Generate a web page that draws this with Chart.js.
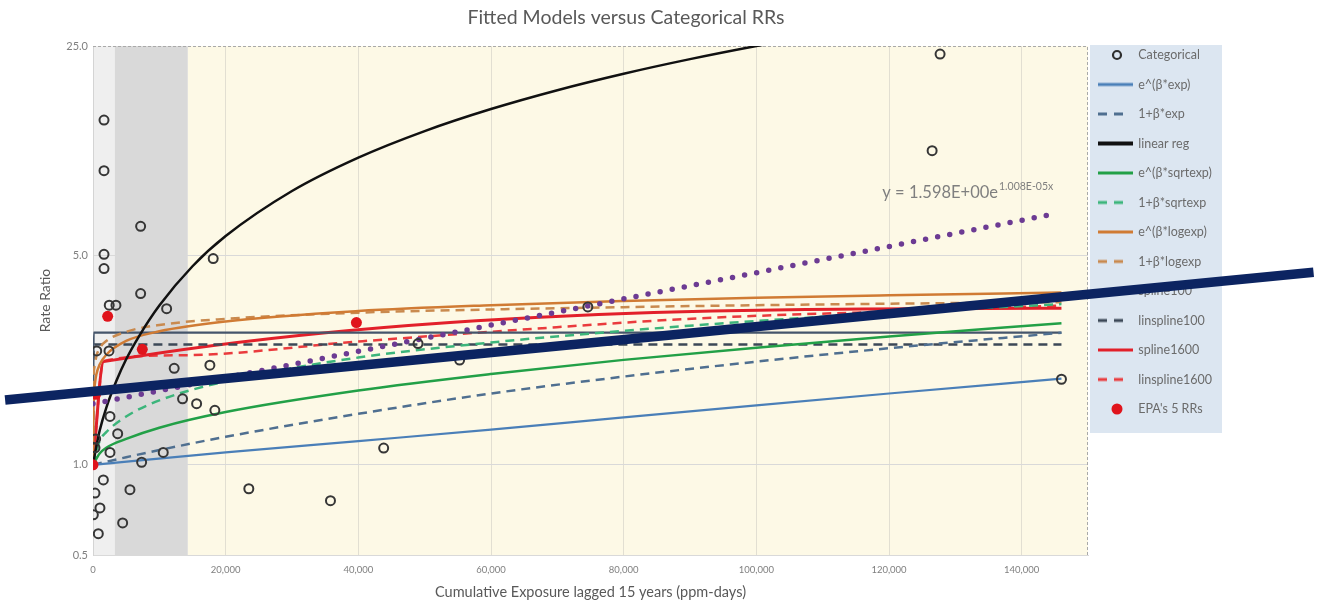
<!DOCTYPE html>
<html>
<head>
<meta charset="utf-8">
<title>Fitted Models versus Categorical RRs</title>
<script src="https://cdn.jsdelivr.net/npm/chart.js@4.4.1/dist/chart.umd.min.js"></script>
<style>
  html, body { margin: 0; padding: 0; background: #ffffff; }
  #wrap { width: 1322px; height: 603px; }
</style>
</head>
<body>
<div id="wrap"><canvas id="chart" width="1322" height="603"></canvas></div>
<script>
// ---- Categorical rate ratios (cumulative exposure, ppm-days) ----
const catX = [1660, 1660, 7180, 1660, 1660, 18120, 7180, 2450, 3460, 11100,
              560, 2410, 12240, 17620, 13500, 15620, 2560, 18370, 3720, 400,
              300, 2560, 10590, 7330, 1560, 300, 5570, 1050, 50, 4470,
              800, 23490, 35800, 43820, 74600, 49000, 55270, 146000, 126500, 127700];
const catRR = [14.15, 9.59, 6.25, 5.04, 4.52, 4.88, 3.73, 3.41, 3.41, 3.32,
               2.40, 2.40, 2.10, 2.15, 1.66, 1.60, 1.45, 1.52, 1.27, 1.22,
               1.14, 1.10, 1.10, 1.02, 0.89, 0.805, 0.826, 0.718, 0.681, 0.64,
               0.589, 0.832, 0.759, 1.137, 3.365, 2.54, 2.237, 1.93, 11.18, 23.5];

// ---- EPA's five rate ratios ----
const epaX = [0, 400, 2210, 7430, 39710];
const epaRR = [1.0, 1.72, 3.13, 2.43, 2.985];

// ---- Fitted exposure-response models ----
const expX = [0, 20000, 40000, 60000, 80000, 100000, 120000, 146000];
const expRR = [1.0, 1.10, 1.20, 1.31, 1.44, 1.58, 1.73, 1.94];

const linExpX = [0, 5000, 10000, 20000, 40000, 60000, 80000, 100000, 120000, 146000];
const linExpRR = [1.0, 1.06, 1.12, 1.24, 1.48, 1.73, 1.97, 2.21, 2.45, 2.76];

const linRegX = [0, 500, 1000, 2000, 3500, 5000, 7000, 10000, 15000, 20000,
                 30000, 40000, 50000, 60000, 70000, 80000, 90000, 100000, 110000];
const linRegRR = [1.0, 1.15, 1.3, 1.55, 1.9, 2.25, 2.7, 3.4, 4.6, 5.8,
                  8.2, 10.6, 13.0, 15.4, 17.8, 20.2, 22.6, 25.0, 27.4];

const sqrtX = [0, 1000, 2000, 5000, 10000, 20000, 40000, 60000, 80000, 100000, 120000, 146000];
const sqrtExpRR = [1.0, 1.09, 1.14, 1.22, 1.33, 1.50, 1.77, 2.01, 2.24, 2.46, 2.68, 2.97];
const sqrtLinRR = [1.0, 1.20, 1.285, 1.45, 1.64, 1.90, 2.28, 2.56, 2.80, 3.02, 3.21, 3.44];

const logX = [0, 50, 200, 500, 1000, 2000, 5000, 10000, 20000, 40000, 60000, 80000, 100000, 120000, 146000];
const logExpRR = [1.0, 1.55, 1.80, 2.0, 2.16, 2.33, 2.59, 2.79, 3.01, 3.26, 3.41, 3.52, 3.61, 3.68, 3.76];
const logLinRR = [1.0, 1.82, 2.11, 2.30, 2.45, 2.59, 2.78, 2.93, 3.07, 3.22, 3.30, 3.36, 3.41, 3.45, 3.49];

const spline100X = [0, 100, 146000];
const spline100RR = [1.0, 2.76, 2.76];
const linspline100RR = [1.0, 2.52, 2.52];

const spline1600X = [0, 1600, 146000];
const spline1600RR = [1.0, 2.21, 3.33];

const linspline1600X = [0, 1600, 13000, 40000, 60000, 91000, 120000, 146000];
const linspline1600RR = [1.0, 2.22, 2.32, 2.58, 2.78, 3.08, 3.25, 3.40];

// exponential trendline through the categorical RRs: y = 1.598E+00 e^(1.008E-05 x)
const trendX = [0, 145000];
const trendRR = [1.598, 6.89];
const trendLabel = { main: 'y = 1.598E+00e', power: '1.008E-05x', x: 119000, y: 8.1 };

// straight navy guide line drawn across the whole figure
const guideX = [-13250, 184000];
const guideRR = [1.646, 4.39];

// shaded exposure bands behind the plot
const bandEdges = [0, 3300, 14300, 150000];
const bandFills = ['#efefef', '#d9d9d9', '#fdf9e6'];

// axis ticks
const xTicks = [0, 20000, 40000, 60000, 80000, 100000, 120000, 140000];
const yTicks = [0.5, 1, 5, 25];

// ---- helpers ----
const pts = (xs, ys) => xs.map((x, i) => ({ x: x, y: ys[i] }));
const FONT = 'Lato, "Open Sans", "DejaVu Sans", sans-serif';
const LEGEND_W = 134;
const LEGEND_FONT = 12.5;
const LEGEND_PAD = 17;
const LEGEND_TITLE_H = 13.2 + 9.3 + 9.25;

function curve(label, xs, ys, color, width, dash) {
  return {
    label: label,
    data: pts(xs, ys),
    borderColor: color,
    backgroundColor: color,
    borderWidth: width,
    borderDash: dash || [],
    pointRadius: 0,
    pointHoverRadius: 0,
    fill: false,
    cubicInterpolationMode: 'monotone',
    order: 0
  };
}

const datasets = [
  {
    label: 'Categorical',
    data: pts(catX, catRR),
    showLine: false,
    pointRadius: 4.5,
    pointHoverRadius: 4.5,
    pointBorderWidth: 2,
    pointBorderColor: '#363636',
    pointBackgroundColor: 'rgba(0,0,0,0)',
    borderColor: '#363636',
    backgroundColor: 'rgba(0,0,0,0)',
    order: -2
  },
  curve('e^(β*exp)', expX, expRR, '#4a7fb8', 2.2),
  curve('1+β*exp', linExpX, linExpRR, '#4f6f90', 2.5, [9, 6]),
  curve('linear reg', linRegX, linRegRR, '#111111', 2.5),
  curve('e^(β*sqrtexp)', sqrtX, sqrtExpRR, '#22a047', 2.5),
  curve('1+β*sqrtexp', sqrtX, sqrtLinRR, '#3cb57b', 2.5, [9, 6]),
  curve('e^(β*logexp)', logX, logExpRR, '#d07b34', 2.5),
  curve('1+β*logexp', logX, logLinRR, '#c98a4f', 2.5, [9, 6]),
  curve('spline100', spline100X, spline100RR, '#45556b', 2.2),
  curve('linspline100', spline100X, linspline100RR, '#3c4857', 2.5, [9, 6]),
  curve('spline1600', spline1600X, spline1600RR, '#e2202a', 3),
  curve('linspline1600', linspline1600X, linspline1600RR, '#ea3b3d', 2.5, [9, 6]),
  {
    label: "EPA's 5 RRs",
    data: pts(epaX, epaRR),
    showLine: false,
    pointRadius: 5.5,
    pointHoverRadius: 5.5,
    pointBorderWidth: 0,
    pointBackgroundColor: '#e0141c',
    borderColor: '#e0141c',
    backgroundColor: '#e0141c',
    order: -1.5
  },
  {
    label: 'Expon. (Categorical)',
    data: pts(trendX, trendRR),
    borderColor: '#6c3b93',
    borderWidth: 5.5,
    borderDash: [0, 12.3],
    borderCapStyle: 'round',
    pointRadius: 0,
    pointHoverRadius: 0,
    fill: false,
    order: -1
  },
  {
    label: 'guide',
    data: pts(guideX, guideRR),
    borderColor: '#0c2461',
    borderWidth: 9.5,
    pointRadius: 0,
    pointHoverRadius: 0,
    fill: false,
    clip: false,
    order: -3
  }
];

// legend swatches: which entries show, and how each swatch looks
const legendSwatches = [
  { kind: 'ring', color: '#2e2e2e' },
  { kind: 'line', color: '#4a7fb8', width: 3 },
  { kind: 'line', color: '#4f6f90', width: 3, dash: true },
  { kind: 'line', color: '#111111', width: 4 },
  { kind: 'line', color: '#22a047', width: 3 },
  { kind: 'line', color: '#3cb57b', width: 3, dash: true },
  { kind: 'line', color: '#d07b34', width: 3 },
  { kind: 'line', color: '#c98a4f', width: 3, dash: true },
  { kind: 'line', color: '#45556b', width: 3 },
  { kind: 'line', color: '#3c4857', width: 3, dash: true },
  { kind: 'line', color: '#e2202a', width: 3 },
  { kind: 'line', color: '#ea3b3d', width: 3, dash: true },
  { kind: 'dot', color: '#e0141c' },
  null,
  null
];

function swatchImage(spec) {
  const c = document.createElement('canvas');
  c.width = 41; c.height = 14;
  const g = c.getContext('2d');
  if (spec.kind === 'ring') {
    g.beginPath(); g.arc(19, 7, 4, 0, Math.PI * 2);
    g.lineWidth = 2.2; g.strokeStyle = spec.color; g.stroke();
  } else if (spec.kind === 'dot') {
    g.beginPath(); g.arc(19, 7, 5.5, 0, Math.PI * 2);
    g.fillStyle = spec.color; g.fill();
  } else {
    g.strokeStyle = spec.color; g.lineWidth = spec.width;
    g.setLineDash(spec.dash ? [9, 7] : []);
    g.beginPath(); g.moveTo(0, 7); g.lineTo(spec.dash ? 26 : 35, 7); g.stroke();
  }
  return c;
}
const swatchImages = legendSwatches.map(s => s ? swatchImage(s) : null);

// backdrop: exposure bands, legend panel, dashed frame, trendline equation
const backdrop = {
  id: 'backdrop',
  beforeLayout(chart) {
    const lg = chart.legend;
    if (lg && !lg.__fixedWidth) {
      const fit = lg.fit;
      lg.fit = function () { fit.call(this); this.width = LEGEND_W; };
      lg.__fixedWidth = true;
    }
  },
  beforeDraw(chart) {
    const { ctx, chartArea: a, scales } = chart;
    const xs = scales.x;
    ctx.save();
    ctx.fillStyle = '#ffffff';
    ctx.fillRect(0, 0, chart.width, chart.height);
    for (let i = 0; i < bandFills.length; i++) {
      const x0 = xs.getPixelForValue(bandEdges[i]);
      const x1 = xs.getPixelForValue(bandEdges[i + 1]);
      ctx.fillStyle = bandFills[i];
      ctx.fillRect(x0, a.top, x1 - x0, a.bottom - a.top);
    }
    const lg = chart.legend;
    if (lg) {
      const n = legendSwatches.filter(Boolean).length;
      const firstCenter = lg.top + LEGEND_TITLE_H + LEGEND_PAD + LEGEND_FONT / 2;
      const bottom = firstCenter + (n - 1) * (LEGEND_FONT + LEGEND_PAD) + 24;
      ctx.fillStyle = '#dce6f1';
      ctx.fillRect(a.right + 2, a.top - 1, lg.right - a.right - 2, bottom - a.top + 1);
    }
    ctx.restore();
  },
  beforeDatasetsDraw(chart) {
    const { ctx, chartArea: a, scales } = chart;
    ctx.save();
    ctx.strokeStyle = '#a9a9a9';
    ctx.lineWidth = 1;
    ctx.setLineDash([3, 2]);
    ctx.beginPath();
    ctx.moveTo(a.left, a.top + 0.5);
    ctx.lineTo(a.right - 0.5, a.top + 0.5);
    ctx.lineTo(a.right - 0.5, a.bottom);
    ctx.stroke();
    ctx.setLineDash([]);
    const px = scales.x.getPixelForValue(trendLabel.x);
    const py = scales.y.getPixelForValue(trendLabel.y);
    ctx.fillStyle = '#7f7f7f';
    ctx.textBaseline = 'middle';
    ctx.textAlign = 'left';
    ctx.font = '16.5px ' + FONT;
    ctx.fillText(trendLabel.main, px, py);
    const w = ctx.measureText(trendLabel.main).width;
    ctx.font = '10.5px ' + FONT;
    ctx.fillText(trendLabel.power, px + w + 1, py - 6);
    ctx.restore();
  }
};

new Chart(document.getElementById('chart'), {
  type: 'line',
  data: { datasets: datasets },
  plugins: [backdrop],
  options: {
    responsive: false,
    animation: false,
    devicePixelRatio: 1,
    events: [],
    layout: { padding: { top: 0, right: 100, bottom: 0, left: 30 } },
    scales: {
      x: {
        type: 'linear',
        min: 0,
        max: 150000,
        afterFit(scale) { scale.height = 48; },
        afterBuildTicks(scale) { scale.ticks = xTicks.map(v => ({ value: v })); },
        grid: {
          color: ctx => (ctx.tick && ctx.tick.value === 0) ? 'rgba(0,0,0,0)' : '#e2dfd2',
          drawTicks: false
        },
        border: { display: true, color: '#d9d9d9' },
        ticks: {
          padding: 9,
          color: '#7f7f7f',
          font: { family: FONT, size: 9.5 },
          maxRotation: 0,
          callback: v => Number(v).toLocaleString('en-US')
        },
        title: {
          display: true,
          text: 'Cumulative Exposure lagged 15 years (ppm-days)',
          color: '#595959',
          font: { family: FONT, size: 14.5 },
          padding: { top: 0, bottom: 2.3 }
        }
      },
      y: {
        type: 'logarithmic',
        min: 0.5,
        max: 25,
        afterFit(scale) { scale.width = 63; },
        afterBuildTicks(scale) { scale.ticks = yTicks.map(v => ({ value: v })); },
        grid: {
          color: ctx => (ctx.tick && (ctx.tick.value === 25 || ctx.tick.value === 0.5)) ? 'rgba(0,0,0,0)' : '#d9d9d9',
          drawTicks: false
        },
        border: { display: true, color: '#d4d4d4' },
        ticks: {
          padding: 5,
          color: '#7f7f7f',
          font: { family: FONT, size: 11 },
          callback: v => Number(v).toFixed(1)
        },
        title: {
          display: true,
          text: 'Rate Ratio',
          color: '#595959',
          font: { family: FONT, size: 14 },
          padding: { top: 6.6, bottom: 0 }
        }
      }
    },
    plugins: {
      tooltip: { enabled: false },
      title: {
        display: true,
        text: 'Fitted Models versus Categorical RRs',
        color: '#595959',
        font: { family: FONT, size: 19.5, weight: 'normal' },
        padding: { top: 6.3, bottom: 16.3 }
      },
      legend: {
        position: 'right',
        align: 'start',
        title: { display: true, text: '', font: { family: FONT, size: 11 }, padding: { top: 9.3, bottom: 9.25 } },
        labels: {
          usePointStyle: true,
          pointStyleWidth: 27,
          padding: LEGEND_PAD,
          color: '#6b6b6b',
          font: { family: FONT, size: LEGEND_FONT },
          generateLabels(chart) {
            const out = [];
            chart.data.datasets.forEach((d, i) => {
              if (!swatchImages[i]) return;
              out.push({
                text: d.label,
                datasetIndex: i,
                hidden: !chart.isDatasetVisible(i),
                pointStyle: swatchImages[i],
                fillStyle: 'rgba(0,0,0,0)',
                strokeStyle: 'rgba(0,0,0,0)',
                lineWidth: 0,
                fontColor: '#6b6b6b'
              });
            });
            return out;
          }
        }
      }
    }
  }
});
</script>
</body>
</html>
